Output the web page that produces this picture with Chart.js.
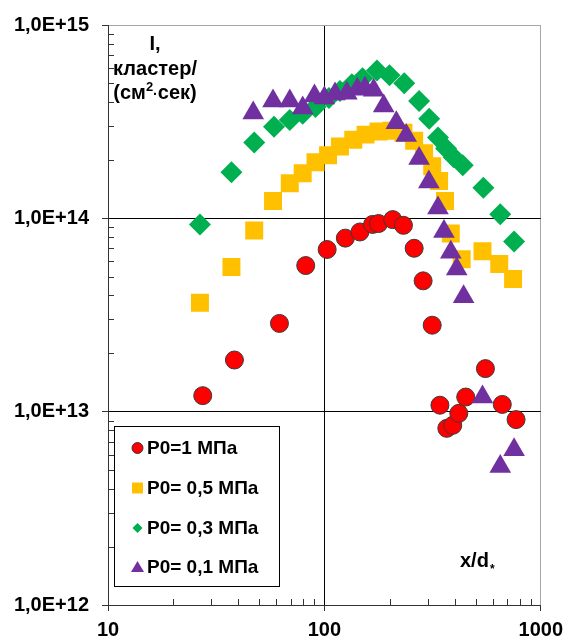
<!DOCTYPE html>
<html>
<head>
<meta charset="utf-8">
<script src="https://cdn.jsdelivr.net/npm/chart.js@4/dist/chart.umd.min.js"></script>
<style>
  body { margin: 0; background: #fff; }
  canvas { display: block; }
</style>
</head>
<body>
<canvas id="chart" width="570" height="641"></canvas>
<script>
// data (x = x/d*, y = I)
const seriesLabels = ['P0=1 МПа', 'P0= 0,5 МПа', 'P0= 0,3 МПа', 'P0= 0,1 МПа'];

const mpa1X = [27.4, 38.4, 62, 82, 103, 125, 146, 167, 178, 207, 232, 260, 286, 315, 342, 368, 392, 418, 450, 555, 664, 769];
const mpa1Y = [1.21e13, 1.85e13, 2.86e13, 5.7e13, 6.9e13, 7.9e13, 8.5e13, 9.3e13, 9.4e13, 9.85e13, 9.2e13, 7.0e13,
               4.75e13, 2.8e13, 1.08e13, 8.2e12, 8.5e12, 9.8e12, 1.19e13, 1.67e13, 1.09e13, 9.1e12];

const mpa05X = [26.6, 37.2, 47.4, 57.9, 69.2, 79.4, 91, 104, 118, 136, 155, 178, 204, 232, 260, 289, 315, 339, 361, 384, 431, 538, 643, 745];
const mpa05Y = [3.66e13, 5.6e13, 8.66e13, 1.23e14, 1.52e14, 1.71e14, 1.95e14, 2.12e14, 2.35e14, 2.55e14, 2.71e14, 2.81e14,
                2.84e14, 2.77e14, 2.52e14, 2.17e14, 1.86e14, 1.56e14, 1.23e14, 8.35e13, 6.15e13, 6.76e13, 5.8e13, 4.86e13];

const mpa03X = [26.6, 37.2, 47.4, 58.5, 69.2, 79.4, 91, 105, 118, 134, 150, 175, 200, 234, 274, 305, 335, 365, 396, 436, 543, 650, 753];
const mpa03Y = [9.29e13, 1.73e14, 2.47e14, 2.98e14, 3.23e14, 3.47e14, 3.77e14, 4.19e14, 4.55e14, 4.94e14, 5.3e14, 5.82e14,
                5.49e14, 5.0e14, 4.04e14, 3.27e14, 2.62e14, 2.3e14, 2.07e14, 1.88e14, 1.44e14, 1.05e14, 7.6e13];

const mpa01X = [46.9, 57.9, 69.2, 79.4, 90, 100, 112, 127, 142, 154, 169, 188, 215, 239, 274, 304, 335, 357, 384, 409, 440, 538, 650, 753];
const mpa01Y = [3.51e14, 4.04e14, 4.04e14, 3.72e14, 4.29e14, 4.19e14, 4.39e14, 4.44e14, 4.65e14, 4.71e14, 4.6e14, 3.81e14,
                3.12e14, 2.68e14, 2.04e14, 1.54e14, 1.13e14, 8.55e13, 6.68e13, 5.47e13, 3.93e13, 1.19e13, 5.2e12, 6.35e12];

const xTicks = [10, 100, 1000];
const yTicks = [1e12, 1e13, 1e14, 1e15];
const xTitle = 'x/d';
const yTitle = ['I,', 'кластер/'];

const FONT = '"Liberation Sans", Arial, sans-serif';

function points(xs, ys) {
    return xs.map((x, i) => ({ x: x, y: ys[i] }));
}

function expLabel(v) {
    return '1,0E+' + Math.round(Math.log10(v));
}

// minor ticks inside, titles and the boxed legend
const decorPlugin = {
    id: 'decor',
    afterDraw(chart) {
        const ctx = chart.ctx;
        const xs = chart.scales.x, ys = chart.scales.y;
        const area = chart.chartArea;
        ctx.save();
        ctx.strokeStyle = '#333';
        ctx.lineWidth = 1;
        ctx.beginPath();
        for (let d = 10; d < 1000; d *= 10) {
            for (let m = 2; m <= 9; m++) {
                const px = Math.round(xs.getPixelForValue(d * m)) + 0.5;
                ctx.moveTo(px, area.bottom);
                ctx.lineTo(px, area.bottom - 6);
            }
        }
        for (let d = 1e12; d < 1e15; d *= 10) {
            for (let m = 2; m <= 9; m++) {
                const py = Math.round(ys.getPixelForValue(d * m)) + 0.5;
                ctx.moveTo(area.left, py);
                ctx.lineTo(area.left + 6, py);
            }
        }
        ctx.stroke();

        // y title
        ctx.fillStyle = '#000';
        ctx.textAlign = 'center';
        ctx.textBaseline = 'alphabetic';
        ctx.font = 'bold 20px ' + FONT;
        ctx.fillText(yTitle[0], 155, 50);
        ctx.fillText(yTitle[1], 155, 75);
        const parts = [
            { t: '(см', f: 'bold 20px ' + FONT, dy: 0 },
            { t: '2', f: 'bold 13px ' + FONT, dy: -8 },
            { t: '·', f: 'bold 14px ' + FONT, dy: 0 },
            { t: 'сек)', f: 'bold 20px ' + FONT, dy: 0 }
        ];
        let total = 0;
        parts.forEach(p => { ctx.font = p.f; p.w = ctx.measureText(p.t).width; total += p.w; });
        ctx.textAlign = 'left';
        let cx = 155 - total / 2;
        parts.forEach(p => { ctx.font = p.f; ctx.fillText(p.t, cx, 99 + p.dy); cx += p.w; });

        // x title
        ctx.font = 'bold 20px ' + FONT;
        ctx.fillText(xTitle, 460, 567);
        const w = ctx.measureText(xTitle).width;
        ctx.font = 'bold 12px ' + FONT;
        ctx.fillText('*', 460 + w + 1, 573);

        // legend
        ctx.fillStyle = '#fff';
        ctx.fillRect(114, 426, 165, 160);
        ctx.strokeStyle = '#000';
        ctx.strokeRect(114.5, 426.5, 165, 160);
        const rows = [448, 488, 528, 567];
        const mx = 137.5;
        chart.data.datasets.forEach((ds, i) => {
            const y = rows[i];
            ctx.fillStyle = ds.backgroundColor;
            ctx.beginPath();
            if (ds.pointStyle === 'circle') {
                ctx.arc(mx, y, 5.5, 0, Math.PI * 2);
                ctx.fill();
                ctx.strokeStyle = ds.borderColor;
                ctx.stroke();
            } else if (ds.pointStyle === 'rect') {
                ctx.fillRect(mx - 5.5, y - 5.5, 11, 11);
            } else if (ds.pointStyle === 'rectRot') {
                ctx.moveTo(mx, y - 5); ctx.lineTo(mx + 5, y); ctx.lineTo(mx, y + 5); ctx.lineTo(mx - 5, y);
                ctx.closePath();
                ctx.fill();
            } else {
                ctx.moveTo(mx, y - 6); ctx.lineTo(mx + 6.5, y + 5); ctx.lineTo(mx - 6.5, y + 5);
                ctx.closePath();
                ctx.fill();
            }
            ctx.fillStyle = '#000';
            ctx.font = 'bold 19px ' + FONT;
            ctx.textBaseline = 'middle';
            ctx.fillText(ds.label, 147, y + 1);
        });
        ctx.restore();
    }
};

new Chart(document.getElementById('chart'), {
    type: 'scatter',
    data: {
        datasets: [
            { label: seriesLabels[0], data: points(mpa1X, mpa1Y), pointStyle: 'circle', pointRadius: 9,
              backgroundColor: '#FF0000', borderColor: '#3a3a3a', borderWidth: 1, order: 3 },
            { label: seriesLabels[1], data: points(mpa05X, mpa05Y), pointStyle: 'rect', pointRadius: 12.7,
              backgroundColor: '#FFC000', borderWidth: 0, order: 2 },
            { label: seriesLabels[2], data: points(mpa03X, mpa03Y), pointStyle: 'rectRot', pointRadius: 11,
              backgroundColor: '#00B050', borderWidth: 0, order: 1 },
            { label: seriesLabels[3], data: points(mpa01X, mpa01Y), pointStyle: 'triangle', pointRadius: 12.5,
              backgroundColor: '#7030A0', borderWidth: 0, order: 0 }
        ]
    },
    options: {
        responsive: false,
        animation: false,
        events: [],
        layout: { padding: { top: 18, right: 24, left: 0, bottom: 0 } },
        plugins: { legend: { display: false }, tooltip: { enabled: false } },
        scales: {
            x: {
                type: 'logarithmic',
                min: 10,
                max: 1000,
                afterBuildTicks: s => { s.ticks = xTicks.map(v => ({ value: v })); },
                afterFit: s => { s.height = 36; },
                ticks: {
                    autoSkip: false,
                    maxRotation: 0,
                    padding: 7,
                    color: '#000',
                    font: { family: FONT, size: 20, weight: 'bold' },
                    callback: v => String(v)
                },
                grid: {
                    tickLength: 6,
                    tickColor: '#333',
                    color: c => (c.tick && c.tick.value === 1000) ? '#a6a6a6' : '#000'
                },
                border: { color: '#333' }
            },
            y: {
                type: 'logarithmic',
                min: 1e12,
                max: 1e15,
                afterBuildTicks: s => { s.ticks = yTicks.map(v => ({ value: v })); },
                afterFit: s => { s.width = 108; },
                ticks: {
                    autoSkip: false,
                    padding: 13,
                    color: '#000',
                    font: { family: FONT, size: 20, weight: 'bold' },
                    callback: v => expLabel(v)
                },
                grid: {
                    tickLength: 6,
                    tickColor: '#333',
                    color: c => (c.tick && c.tick.value === 1e15) ? '#a6a6a6' : '#000'
                },
                border: { color: '#333' }
            }
        }
    },
    plugins: [decorPlugin]
});
</script>
</body>
</html>
